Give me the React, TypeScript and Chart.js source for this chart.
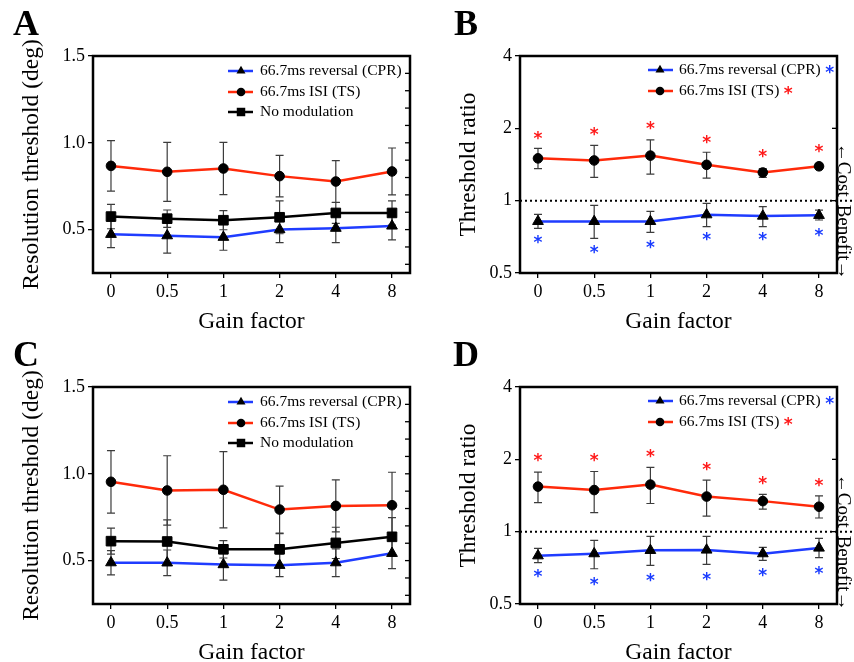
import React, { useEffect, useRef } from 'react';
import { Chart, registerables } from 'chart.js';

Chart.register(...registerables);

const SERIF = "'Liberation Serif', 'Times New Roman', serif";
const STARFONT = "'DejaVu Sans', sans-serif";

// ---------- categories / ticks ----------
const gainLabels = ['0', '0.5', '1', '2', '4', '8'];
const gainPositions = [0, 1, 2, 3, 4, 5];
const absTickValues = [0.5, 1.0, 1.5];
const absMinorTicks = [0.3, 0.4, 0.5, 0.6, 0.7, 0.8, 0.9, 1.0, 1.1, 1.2, 1.3, 1.4];
const ratioTickValues = [0.5, 1, 2, 4];
const ratioRightTicks = [1, 2];

const labelCPR = '66.7ms reversal (CPR)';
const labelTS = '66.7ms ISI (TS)';
const labelNoMod = 'No modulation';

// ---------- Panel A (resolution threshold, deg) ----------
const cprA = [0.473, 0.465, 0.456, 0.5, 0.508, 0.521];
const cprErrA = [0.077, 0.1, 0.075, 0.075, 0.083, 0.08];
const tsA = [0.867, 0.833, 0.852, 0.808, 0.777, 0.835];
const tsErrA = [0.145, 0.17, 0.15, 0.12, 0.12, 0.135];
const noModA = [0.575, 0.563, 0.554, 0.571, 0.596, 0.596];
const noModErrA = [0.07, 0.05, 0.055, 0.095, 0.06, 0.07];

// ---------- Panel B (threshold ratio) ----------
const cprB = [0.82, 0.82, 0.82, 0.874, 0.863, 0.869];
const cprHiB = [0.877, 0.956, 0.903, 0.975, 0.944, 0.914];
const cprLoB = [0.767, 0.697, 0.738, 0.78, 0.78, 0.831];
const tsB = [1.5, 1.47, 1.54, 1.41, 1.31, 1.39];
const tsHiB = [1.65, 1.7, 1.79, 1.59, 1.36, 1.43];
const tsLoB = [1.36, 1.25, 1.29, 1.24, 1.25, 1.35];
const starCprB = [0.686, 0.627, 0.658, 0.704, 0.704, 0.738];
const starTsB = [1.86, 1.93, 2.05, 1.79, 1.56, 1.64];

// ---------- Panel C (resolution threshold, deg) ----------
const cprC = [0.488, 0.487, 0.477, 0.473, 0.488, 0.542];
const cprErrC = [0.07, 0.074, 0.09, 0.065, 0.08, 0.088];
const tsC = [0.954, 0.904, 0.908, 0.794, 0.815, 0.819];
const tsErrC = [0.18, 0.2, 0.22, 0.135, 0.15, 0.19];
const noModC = [0.612, 0.61, 0.565, 0.565, 0.602, 0.637];
const noModErrC = [0.075, 0.125, 0.05, 0.09, 0.09, 0.11];

// ---------- Panel D (threshold ratio) ----------
const cprD = [0.794, 0.81, 0.836, 0.839, 0.81, 0.855];
const cprHiD = [0.852, 0.92, 0.956, 0.956, 0.861, 0.938];
const cprLoD = [0.743, 0.701, 0.724, 0.731, 0.76, 0.78];
const tsD = [1.54, 1.49, 1.57, 1.4, 1.34, 1.27];
const tsHiD = [1.77, 1.78, 1.85, 1.64, 1.43, 1.41];
const tsLoD = [1.32, 1.2, 1.31, 1.16, 1.24, 1.14];
const starCprD = [0.665, 0.617, 0.642, 0.648, 0.677, 0.69];
const starTsD = [2.03, 2.03, 2.1, 1.86, 1.62, 1.6];

const BLUE = '#1f3cff';
const RED = '#ff2a0a';
const BLACK = '#000000';
const STAR_BLUE = '#1a3cff';
const STAR_RED = '#ff1a1a';

type Style = 'triangle' | 'circle' | 'rect';
type Series = {
  label: string;
  color: string;
  style: Style;
  values: number[];
  lo: number[];
  hi: number[];
  legendStar?: string;
};
type Panel = {
  letter: string;
  letterX: number;
  ratio: boolean;
  yTitle: string;
  series: Series[];
  stars: { color: string; values: number[] }[];
};

const sym = (v: number[], e: number[], sign: number) => v.map((x, i) => x + sign * e[i]);

const panelA: Panel = {
  letter: 'A', letterX: 13, ratio: false, yTitle: 'Resolution threshold (deg)',
  series: [
    { label: labelCPR, color: BLUE, style: 'triangle', values: cprA, lo: sym(cprA, cprErrA, -1), hi: sym(cprA, cprErrA, 1) },
    { label: labelTS, color: RED, style: 'circle', values: tsA, lo: sym(tsA, tsErrA, -1), hi: sym(tsA, tsErrA, 1) },
    { label: labelNoMod, color: BLACK, style: 'rect', values: noModA, lo: sym(noModA, noModErrA, -1), hi: sym(noModA, noModErrA, 1) },
  ],
  stars: [],
};
const panelC: Panel = {
  letter: 'C', letterX: 13, ratio: false, yTitle: 'Resolution threshold (deg)',
  series: [
    { label: labelCPR, color: BLUE, style: 'triangle', values: cprC, lo: sym(cprC, cprErrC, -1), hi: sym(cprC, cprErrC, 1) },
    { label: labelTS, color: RED, style: 'circle', values: tsC, lo: sym(tsC, tsErrC, -1), hi: sym(tsC, tsErrC, 1) },
    { label: labelNoMod, color: BLACK, style: 'rect', values: noModC, lo: sym(noModC, noModErrC, -1), hi: sym(noModC, noModErrC, 1) },
  ],
  stars: [],
};
const panelB: Panel = {
  letter: 'B', letterX: 27, ratio: true, yTitle: 'Threshold ratio',
  series: [
    { label: labelCPR, color: BLUE, style: 'triangle', values: cprB, lo: cprLoB, hi: cprHiB, legendStar: STAR_BLUE },
    { label: labelTS, color: RED, style: 'circle', values: tsB, lo: tsLoB, hi: tsHiB, legendStar: STAR_RED },
  ],
  stars: [
    { color: STAR_BLUE, values: starCprB },
    { color: STAR_RED, values: starTsB },
  ],
};
const panelD: Panel = {
  letter: 'D', letterX: 26, ratio: true, yTitle: 'Threshold ratio',
  series: [
    { label: labelCPR, color: BLUE, style: 'triangle', values: cprD, lo: cprLoD, hi: cprHiD, legendStar: STAR_BLUE },
    { label: labelTS, color: RED, style: 'circle', values: tsD, lo: tsLoD, hi: tsHiD, legendStar: STAR_RED },
  ],
  stars: [
    { color: STAR_BLUE, values: starCprD },
    { color: STAR_RED, values: starTsD },
  ],
};

const pointRadius: Record<Style, number> = { triangle: 6.2, circle: 4.8, rect: 6.8 };
const legendRadius: Record<Style, number> = { triangle: 5.2, circle: 4.3, rect: 6 };

function drawMarker(ctx: CanvasRenderingContext2D, style: Style, x: number, y: number, r: number) {
  ctx.beginPath();
  if (style === 'circle') {
    ctx.arc(x, y, r, 0, Math.PI * 2);
  } else if (style === 'triangle') {
    let rad = 0;
    ctx.moveTo(x + Math.sin(rad) * r, y - Math.cos(rad) * r);
    rad += (2 * Math.PI) / 3;
    ctx.lineTo(x + Math.sin(rad) * r, y - Math.cos(rad) * r);
    rad += (2 * Math.PI) / 3;
    ctx.lineTo(x + Math.sin(rad) * r, y - Math.cos(rad) * r);
    ctx.closePath();
  } else {
    const s = r * Math.SQRT1_2;
    ctx.rect(x - s, y - s, 2 * s, 2 * s);
  }
  ctx.fill();
}

function drawStar(ctx: CanvasRenderingContext2D, color: string, x: number, cy: number) {
  const size = 17;
  ctx.font = `bold ${size}px ${STARFONT}`;
  ctx.fillStyle = color;
  ctx.textAlign = 'center';
  ctx.textBaseline = 'alphabetic';
  ctx.fillText('*', x, cy + 0.48 * size);
}

function makeDeco(p: Panel) {
  return {
    id: 'deco' + p.letter,
    beforeDatasetsDraw(chart: any) {
      const { ctx, chartArea: a, scales } = chart;
      const xs = scales.x;
      const ys = scales.y;
      ctx.save();
      if (p.ratio) {
        const y1 = ys.getPixelForValue(1);
        ctx.setLineDash([2, 3]);
        ctx.lineWidth = 2;
        ctx.strokeStyle = '#000';
        ctx.beginPath();
        ctx.moveTo(a.left, y1);
        ctx.lineTo(chart.width, y1);
        ctx.stroke();
        ctx.setLineDash([]);
      }
      ctx.strokeStyle = '#3c3c3c';
      ctx.lineWidth = 1.2;
      p.series.forEach((s) => {
        s.values.forEach((_v, i) => {
          const px = xs.getPixelForValue(gainPositions[i]);
          const yt = ys.getPixelForValue(s.hi[i]);
          const yb = ys.getPixelForValue(s.lo[i]);
          ctx.beginPath();
          ctx.moveTo(px, yt);
          ctx.lineTo(px, yb);
          ctx.moveTo(px - 4, yt);
          ctx.lineTo(px + 4, yt);
          ctx.moveTo(px - 4, yb);
          ctx.lineTo(px + 4, yb);
          ctx.stroke();
        });
      });
      ctx.restore();
    },
    afterDatasetsDraw(chart: any) {
      const { ctx, scales } = chart;
      ctx.save();
      p.stars.forEach((st) => {
        st.values.forEach((v, i) => {
          drawStar(ctx, st.color, scales.x.getPixelForValue(gainPositions[i]), scales.y.getPixelForValue(v));
        });
      });
      ctx.restore();
    },
    afterDraw(chart: any) {
      const { ctx, chartArea: a, scales } = chart;
      ctx.save();
      // frame
      ctx.strokeStyle = '#000';
      ctx.lineWidth = 2.5;
      ctx.strokeRect(a.left, a.top, a.right - a.left, a.bottom - a.top);
      // right-side ticks
      ctx.lineWidth = 1.3;
      const rt = p.ratio ? ratioRightTicks : absMinorTicks;
      rt.forEach((v) => {
        const py = scales.y.getPixelForValue(v);
        ctx.beginPath();
        ctx.moveTo(a.right, py);
        ctx.lineTo(a.right - 5, py);
        ctx.stroke();
      });
      // legend
      const g = p.ratio
        ? { x0: 221, x1: 246, mx: 233, tx: 252, ys: [70, 91] }
        : { x0: 228, x1: 253, mx: 241, tx: 260, ys: [71, 92, 112] };
      p.series.forEach((s, i) => {
        const y = g.ys[i];
        ctx.strokeStyle = s.color;
        ctx.lineWidth = 2.5;
        ctx.beginPath();
        ctx.moveTo(g.x0, y);
        ctx.lineTo(g.x1, y);
        ctx.stroke();
        ctx.fillStyle = '#000';
        drawMarker(ctx, s.style, g.mx, y, legendRadius[s.style]);
        ctx.font = `15.5px ${SERIF}`;
        ctx.textAlign = 'left';
        ctx.textBaseline = 'middle';
        ctx.fillStyle = '#000';
        ctx.fillText(s.label, g.tx, y);
        if (s.legendStar) {
          const w = ctx.measureText(s.label).width;
          drawStar(ctx, s.legendStar, g.tx + w + 9, y);
        }
      });
      // panel letter
      ctx.fillStyle = '#000';
      ctx.font = `bold 36px ${SERIF}`;
      ctx.textAlign = 'left';
      ctx.textBaseline = 'alphabetic';
      ctx.fillText(p.letter, p.letterX, 35);
      // cost / benefit
      if (p.ratio) {
        const y1 = scales.y.getPixelForValue(1);
        ctx.translate(416, y1);
        ctx.rotate(Math.PI / 2);
        ctx.font = `19px ${SERIF}`;
        ctx.textBaseline = 'middle';
        ctx.textAlign = 'right';
        ctx.fillText('\u2190Cost', -4, 0);
        ctx.textAlign = 'left';
        ctx.fillText('Benefit\u2192', 4, 0);
      }
      ctx.restore();
    },
  };
}

function buildConfig(p: Panel): any {
  const tickFont = { family: SERIF, size: 18 };
  const yTitleFont = { family: SERIF, size: 23.5, lineHeight: 1 };
  const xTitleFont = { family: SERIF, size: 23.5, lineHeight: 0.75 };
  const yBase: any = p.ratio
    ? {
        type: 'logarithmic',
        min: 0.5,
        max: 4,
        afterBuildTicks: (s: any) => {
          s.ticks = ratioTickValues.map((v) => ({ value: v }));
        },
        ticks: { callback: (v: any) => String(v), font: tickFont, color: '#000', padding: 3 },
      }
    : {
        type: 'linear',
        min: 0.25,
        max: 1.5,
        afterBuildTicks: (s: any) => {
          s.ticks = absTickValues.map((v) => ({ value: v }));
        },
        ticks: { callback: (v: any) => Number(v).toFixed(1), font: tickFont, color: '#000', padding: 3 },
      };
  const y = {
    ...yBase,
    grid: { drawOnChartArea: false, drawTicks: true, tickLength: 5, color: '#000', lineWidth: 1.3 },
    border: { display: false },
    title: {
      display: true,
      text: p.yTitle,
      font: yTitleFont,
      color: '#000',
      padding: { top: p.ratio ? 30.5 : 20.5, bottom: 0 },
    },
    afterFit: (s: any) => {
      s.width = 93;
    },
  };
  const x = {
    type: 'linear',
    min: -0.32,
    max: 5.32,
    afterBuildTicks: (s: any) => {
      s.ticks = gainPositions.map((v) => ({ value: v }));
    },
    ticks: {
      callback: (v: any) => gainLabels[Math.round(Number(v))] ?? '',
      font: tickFont,
      color: '#000',
      padding: 3,
      maxRotation: 0,
    },
    grid: { drawOnChartArea: false, drawTicks: true, tickLength: 5, color: '#000', lineWidth: 1.3 },
    border: { display: false },
    title: { display: true, text: 'Gain factor', font: xTitleFont, color: '#000', padding: { top: 0, bottom: 0 } },
    afterFit: (s: any) => {
      s.height = 58;
    },
  };
  return {
    type: 'line',
    data: {
      datasets: p.series.map((s) => ({
        label: s.label,
        data: s.values.map((v, i) => ({ x: gainPositions[i], y: v })),
        borderColor: s.color,
        borderWidth: 2.5,
        pointStyle: s.style,
        pointRadius: pointRadius[s.style],
        pointBackgroundColor: '#000',
        pointBorderColor: '#000',
        pointBorderWidth: 1,
        tension: 0,
        clip: false,
      })),
    },
    options: {
      responsive: false,
      maintainAspectRatio: false,
      devicePixelRatio: 1,
      animation: false,
      layout: { padding: { top: 56, right: 17, left: 0, bottom: 0 } },
      plugins: { legend: { display: false }, tooltip: { enabled: false } },
      scales: { x, y },
    },
    plugins: [makeDeco(p)],
  };
}

function PanelChart({ spec, left, top }: { spec: Panel; left: number; top: number }) {
  const ref = useRef<HTMLCanvasElement>(null);
  useEffect(() => {
    if (!ref.current) return;
    const chart = new Chart(ref.current, buildConfig(spec));
    return () => chart.destroy();
  }, [spec]);
  return (
    <canvas
      ref={ref}
      width={427}
      height={331}
      style={{ position: 'absolute', left, top, width: 427, height: 331, display: 'block' }}
    />
  );
}

export default function App() {
  return (
    <div style={{ position: 'fixed', left: 0, top: 0, width: 854, height: 662, background: '#fff', overflow: 'hidden' }}>
      <PanelChart spec={panelA} left={0} top={0} />
      <PanelChart spec={panelB} left={427} top={0} />
      <PanelChart spec={panelC} left={0} top={331} />
      <PanelChart spec={panelD} left={427} top={331} />
    </div>
  );
}
